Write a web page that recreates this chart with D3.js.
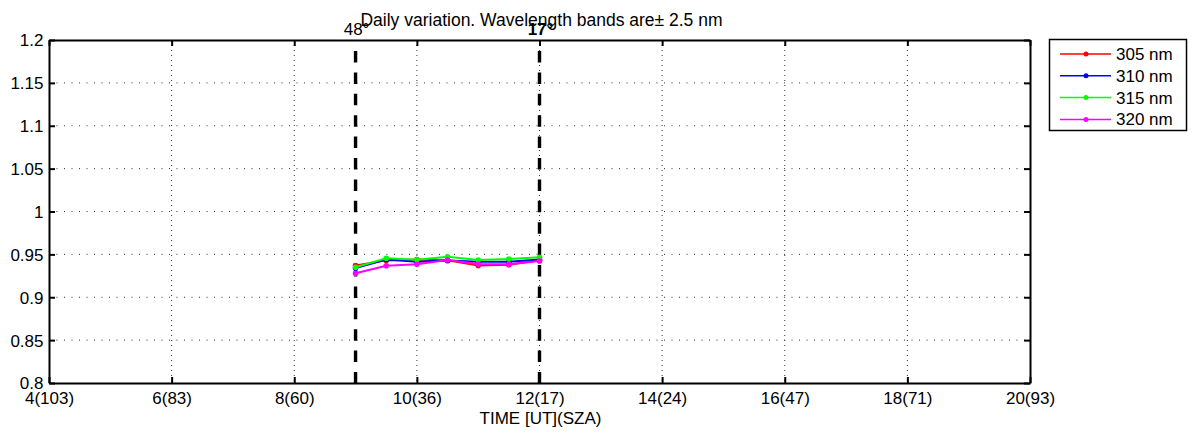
<!DOCTYPE html>
<html><head><meta charset="utf-8">
<script src="https://cdn.jsdelivr.net/npm/d3@7"></script>
<style>body{margin:0;background:#fff}svg{display:block}text{font-family:"Liberation Sans",Arial,sans-serif;fill:#000}</style>
</head><body>
<script>
const times = [9.0, 9.5, 10.0, 10.5, 11.0, 11.5, 12.0];
const seriesNames = ["305 nm", "310 nm", "315 nm", "320 nm"];
const seriesColors = ["#ff0000", "#0000ff", "#00ff00", "#ff00ff"];
const v305 = [0.937, 0.943, 0.944, 0.943, 0.937, 0.938, 0.943];
const v310 = [0.934, 0.944, 0.9415, 0.943, 0.9415, 0.9415, 0.944];
const v315 = [0.935, 0.9454, 0.9438, 0.9473, 0.9434, 0.9446, 0.9466];
const v320 = [0.928, 0.9368, 0.9384, 0.9434, 0.9388, 0.9384, 0.9423];
const xTicks = [4, 6, 8, 10, 12, 14, 16, 18, 20];
const xTickLabels = ["4(103)", "6(83)", "8(60)", "10(36)", "12(17)", "14(24)", "16(47)", "18(71)", "20(93)"];
const yTicks = [0.8, 0.85, 0.9, 0.95, 1, 1.05, 1.1, 1.15, 1.2];
const yTickLabels = ["0.8", "0.85", "0.9", "0.95", "1", "1.05", "1.1", "1.15", "1.2"];
const markTimes = [9.0, 12.0];
const markLabels = ["48°", "17°"];
const title = "Daily variation. Wavelength bands are\u00b1 2.5 nm";
const xLabel = "TIME [UT](SZA)";
const allSeries = [v305, v310, v315, v320];

const W = 1192, H = 432;
const L = 49, R = 1030, T = 40, B = 383;
const FS = "17px";
const svg = d3.select("body").append("svg").attr("width", W).attr("height", H);
const x = d3.scaleLinear().domain([4, 20]).range([L, R]);
const y = d3.scaleLinear().domain([0.8, 1.2]).range([B, T]);

// grid
const g = svg.append("g");
g.selectAll(".gx").data(xTicks.slice(1, -1)).enter().append("line")
  .attr("x1", d => x(d)).attr("x2", d => x(d)).attr("y1", T).attr("y2", B)
  .attr("stroke", "#333").attr("stroke-width", 1).attr("stroke-dasharray", "1,4");
g.selectAll(".gy").data(yTicks.slice(1, -1)).enter().append("line")
  .attr("x1", L).attr("x2", R).attr("y1", d => y(d)).attr("y2", d => y(d))
  .attr("stroke", "#333").attr("stroke-width", 1).attr("stroke-dasharray", "1,6.5");

// axes
const fmtX = (d, i) => xTickLabels[i];
const fmtY = (d, i) => yTickLabels[i];
const axB = svg.append("g").attr("transform", `translate(0,${B})`)
  .call(d3.axisBottom(x).tickValues(xTicks).tickFormat(fmtX).tickSizeInner(-6).tickSizeOuter(0));
const axT = svg.append("g").attr("transform", `translate(0,${T})`)
  .call(d3.axisTop(x).tickValues(xTicks).tickFormat("").tickSizeInner(-6).tickSizeOuter(0));
const axLft = svg.append("g").attr("transform", `translate(${L},0)`)
  .call(d3.axisLeft(y).tickValues(yTicks).tickFormat(fmtY).tickSizeInner(-6).tickSizeOuter(0).tickPadding(5.5));
const axRt = svg.append("g").attr("transform", `translate(${R},0)`)
  .call(d3.axisRight(y).tickValues(yTicks).tickFormat("").tickSizeInner(-6).tickSizeOuter(0));
[axB, axT, axLft, axRt].forEach(a => {
  a.select(".domain").attr("stroke", "#000").attr("stroke-width", 2);
  a.selectAll(".tick line").attr("stroke", "#000").attr("stroke-width", 2);
  a.selectAll("text").style("font-size", FS).attr("fill", "#000");
});
axB.selectAll("text").attr("y", 21).attr("dy", "0");
axLft.selectAll("text").attr("dy", "0.35em");

// dashed markers
svg.selectAll(".mk").data(markTimes).enter().append("line")
  .attr("x1", d => x(d)).attr("x2", d => x(d)).attr("y1", T).attr("y2", B)
  .attr("stroke", "#000").attr("stroke-width", 3.4)
  .attr("stroke-dasharray", "11.5,9.9").attr("stroke-dashoffset", 10.4);

// series
const line = d3.line().x((d, i) => x(times[i])).y(d => y(d));
allSeries.forEach((s, k) => {
  svg.append("path").datum(s).attr("d", line).attr("fill", "none")
    .attr("stroke", seriesColors[k]).attr("stroke-width", 2);
  svg.selectAll(".p" + k).data(s).enter().append("circle")
    .attr("cx", (d, i) => x(times[i])).attr("cy", d => y(d)).attr("r", 2.8)
    .attr("fill", seriesColors[k]);
});

// title
svg.append("text").attr("x", (L + R) / 2 + 2).attr("y", 25.5).attr("text-anchor", "middle")
  .style("font-size", "17.5px").text(title);

// marker labels
svg.selectAll(".ml").data(markTimes).enter().append("text")
  .attr("x", d => x(d) + 1).attr("y", 35).attr("text-anchor", "middle")
  .style("font-size", FS).style("font-weight", (d, i) => i === 1 ? "bold" : "normal")
  .text((d, i) => markLabels[i]);

// x axis label
svg.append("text").attr("x", (L + R) / 2 + 1).attr("y", 424).attr("text-anchor", "middle")
  .style("font-size", FS).text(xLabel);

// legend
const lg = svg.append("g");
lg.append("rect").attr("x", 1049.5).attr("y", 39.5).attr("width", 137).attr("height", 91)
  .attr("fill", "#fff").attr("stroke", "#000").attr("stroke-width", 1.5);
seriesNames.forEach((n, k) => {
  const yy = 54 + k * 21.8;
  lg.append("line").attr("x1", 1060).attr("x2", 1111).attr("y1", yy).attr("y2", yy)
    .attr("stroke", seriesColors[k]).attr("stroke-width", 1.5);
  lg.append("circle").attr("cx", 1086).attr("cy", yy).attr("r", 2.5).attr("fill", seriesColors[k]);
  lg.append("text").attr("x", 1116).attr("y", yy).attr("dy", "0.35em").style("font-size", FS).text(n);
});
</script>
</body></html>
